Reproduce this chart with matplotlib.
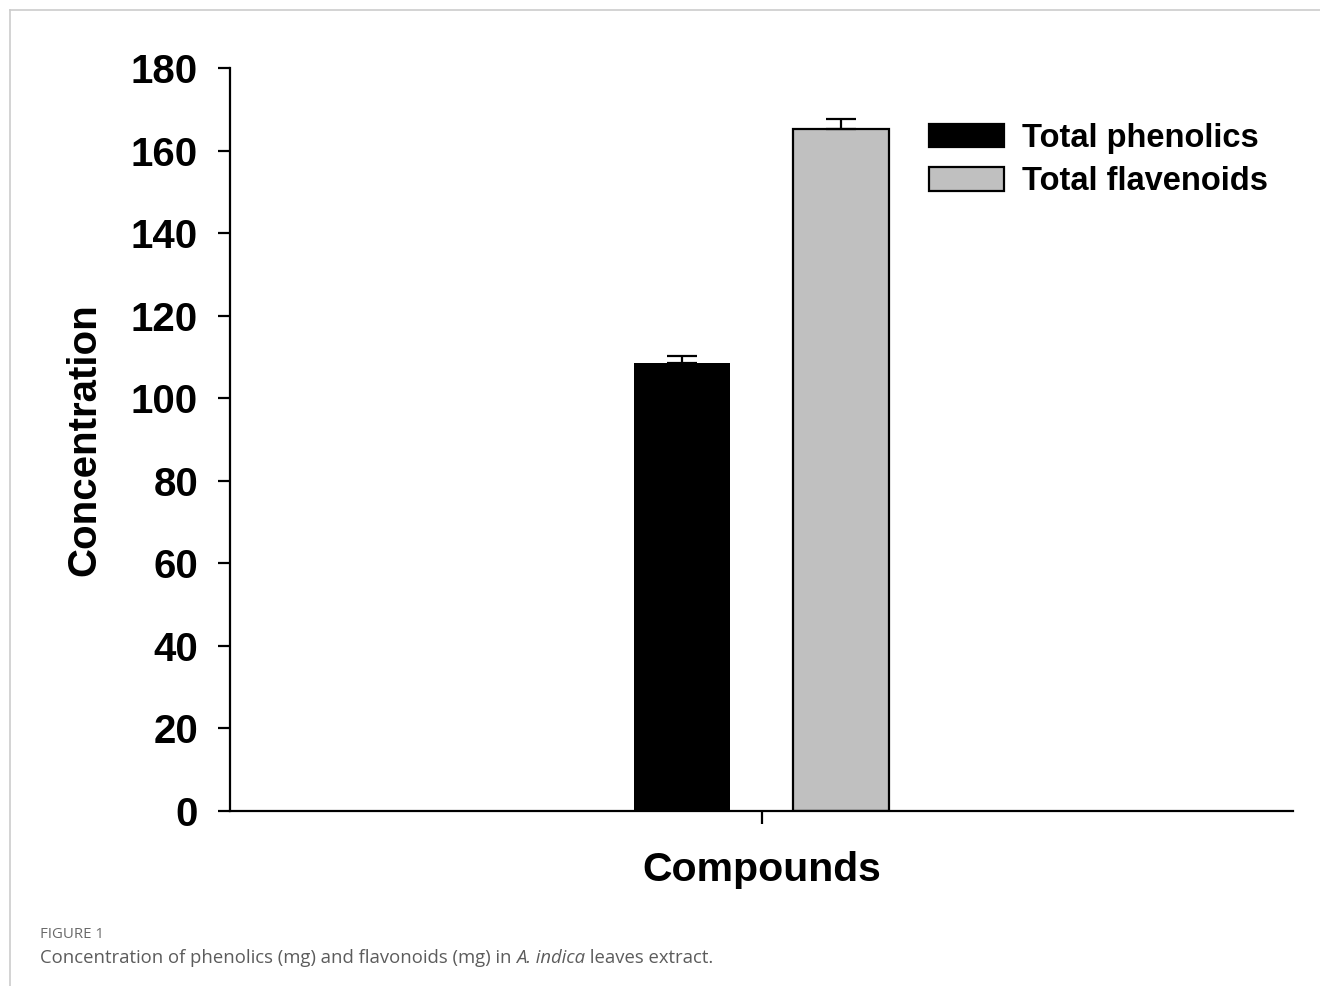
import matplotlib
matplotlib.use("Agg")
import matplotlib.pyplot as plt
from matplotlib.lines import Line2D
from matplotlib.patches import Patch

# mean concentration and error (mg) for each compound class
series = ["Total phenolics", "Total flavenoids"]
means = [108.5, 165.2]
errors = [1.8, 2.4]
colours = ["#000000", "#c0c0c0"]
offsets = [-0.15, 0.15]

yticks = [0, 20, 40, 60, 80, 100, 120, 140, 160, 180]

plt.rcParams['font.family'] = ['Liberation Sans', 'DejaVu Sans']

fig = plt.figure(figsize=(13.2, 9.86), dpi=100)
ax = fig.add_axes([230 / 1320, 1 - 811 / 986, (1293 - 230) / 1320, (811 - 68) / 986])

for off, m, e, c in zip(offsets, means, errors, colours):
    ax.bar(off, m, 0.18, color=c, edgecolor='black',
           linewidth=1.6 if c != '#000000' else 0, zorder=2)
    ax.errorbar(off, m, yerr=[[0], [e]], fmt='none', ecolor='black',
                elinewidth=1.6, capsize=11, capthick=1.6, zorder=3)

ax.set_xlim(-1, 1)
ax.set_ylim(0, 180)
ax.set_yticks(yticks)
ax.set_xticks([0])
ax.set_xticklabels([''])
ax.spines['top'].set_visible(False)
ax.spines['right'].set_visible(False)
ax.spines['left'].set_linewidth(1.6)
ax.spines['bottom'].set_linewidth(1.6)
ax.tick_params(axis='y', direction='out', length=9, width=1.6, pad=14,
               labelsize=29)
ax.tick_params(axis='x', direction='out', length=9, width=1.6)
for lab in ax.get_yticklabels():
    lab.set_fontweight('bold')

ax.set_ylabel('Concentration', fontsize=29, fontweight='bold', labelpad=20)
ax.set_xlabel('Compounds', fontsize=29.5, fontweight='bold', labelpad=16)

handles = [Patch(facecolor=c, edgecolor='black', linewidth=1.6) for c in colours]
ax.legend(handles, series, loc='upper left', bbox_to_anchor=(929 / 1320, 1 - 123 / 986),
          bbox_transform=fig.transFigure, frameon=False, prop={'size': 23.5, 'weight': 'bold'},
          handlelength=2.3, handleheight=0.72, handletextpad=0.55, labelspacing=0.38,
          borderpad=0, borderaxespad=0)

# outer frame of the figure panel
fig.add_artist(Line2D([10 / 1320, 1], [1 - 10 / 986, 1 - 10 / 986], color='#cccccc', lw=1.2))
fig.add_artist(Line2D([10 / 1320, 10 / 1320], [0, 1 - 10 / 986], color='#cccccc', lw=1.2))

# caption
cap_font = ['Open Sans', 'DejaVu Sans']
fig.text(40 / 1320, 1 - 935 / 986, 'FIGURE 1', fontsize=10.8, color='#6a6a6a',
         family=cap_font, va='center')
renderer = fig.canvas.get_renderer()
parts = [('Concentration of phenolics (mg) and flavonoids (mg) in ', 'normal'),
         ('A. indica', 'italic'),
         (' leaves extract.', 'normal')]
x = 40
for txt, style in parts:
    t = fig.text(x / 1320, 1 - 958 / 986, txt, fontsize=13.3, color='#5c5c5c',
                 family=cap_font, style=style, va='center')
    x += t.get_window_extent(renderer).width

fig.savefig('out.png', dpi=100)
